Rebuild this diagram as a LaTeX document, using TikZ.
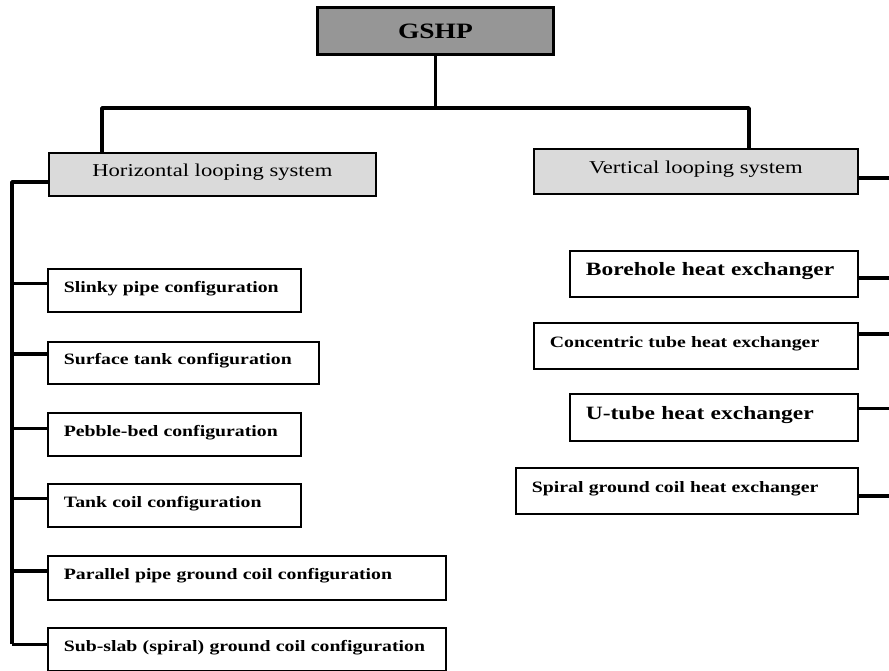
\documentclass[tikz,border=0pt]{standalone}
\usepackage{fontspec}
\newfontfamily\diagfont[FakeStretch=1.25]{Liberation Serif}
\usepackage{xcolor}
\definecolor{rootgray}{RGB}{150,150,150}
\definecolor{groupgray}{RGB}{218,218,218}
\usetikzlibrary{calc, positioning}
\tikzset{
  rootbox/.style={draw, line width=1.7pt, fill=rootgray, anchor=north west, align=center,
    font=\diagfont\bfseries\fontsize{12.5}{14}\selectfont},
  groupbox/.style={draw, line width=1pt, fill=groupgray, anchor=north west, align=center,
    text height=0.7em, text depth=0.5em, font=\diagfont\fontsize{10.3}{12}\selectfont},
  leafbox/.style={draw, line width=1pt, fill=white, anchor=north west, align=left,
    inner xsep=0.32cm, text height=0.7em, text depth=0.5em,
    font=\diagfont\bfseries\fontsize{9}{11}\selectfont},
  bigleaf/.style={leafbox, font=\diagfont\bfseries\fontsize{10.7}{12}\selectfont},
  trunk/.style={line width=2pt, line join=round}
}
\begin{document}
\begin{tikzpicture}[x=0.02cm, y=-0.02cm]
  \useasboundingbox (0,0) rectangle (889,671);
  % top
  \node[rootbox, minimum width=4.72cm, minimum height=0.94cm] (gshp) at (316,6) {GSHP};
  \node[groupbox, minimum width=6.54cm, minimum height=0.86cm] (horiz) at (48,152) {Horizontal looping system};
  \node[groupbox, minimum width=6.48cm, minimum height=0.9cm] (vert) at (533,148) {Vertical looping system};
  % horizontal looping
  \node[leafbox, text width=4.42cm, minimum height=0.86cm] (slinky) at (47,268) {Slinky pipe configuration};
  \node[leafbox, text width=4.78cm, minimum height=0.84cm] (surface) at (47,341) {Surface tank configuration};
  \node[leafbox, text width=4.42cm, minimum height=0.86cm] (pebble) at (47,412) {Pebble-bed configuration};
  \node[leafbox, text width=4.42cm, minimum height=0.86cm] (tankcoil) at (47,483) {Tank coil configuration};
  \node[leafbox, text width=7.32cm, minimum height=0.88cm] (parallel) at (47,555) {Parallel pipe ground coil configuration};
  \node[leafbox, text width=7.32cm, minimum height=0.86cm] (subslab) at (47,627) {Sub-slab (spiral) ground coil configuration};
  % vertical looping
  \node[bigleaf, text width=5.12cm, minimum height=0.92cm] (borehole) at (569,250) {Borehole heat exchanger};
  \node[leafbox, text width=5.84cm, minimum height=0.92cm] (concentric) at (533,322) {Concentric tube heat exchanger};
  \node[bigleaf, text width=5.12cm, minimum height=0.94cm] (utube) at (569,393) {U-tube heat exchanger};
  \node[leafbox, text width=6.20cm, minimum height=0.92cm] (spiral) at (515,467) {Spiral ground coil heat exchanger};

  % bus under GSHP
  \coordinate (hdrop) at (102,108);
  \coordinate (vdrop) at (749,108);
  \draw[trunk] (gshp) -- (gshp |- hdrop);
  \draw[trunk] (horiz.north -| hdrop) -- (hdrop) -- (vdrop) -- (vert.north -| vdrop);

  % left trunk
  \coordinate (ltrunk) at (12,182);
  \draw[trunk] (horiz.west |- ltrunk) -- (ltrunk) -- ($(ltrunk |- subslab.west)+(0,-5)$);
  \foreach \leaf/\dy in {slinky/-7, surface/-9, pebble/-6, tankcoil/-7, parallel/-7, subslab/-5}
    \draw[trunk] ($(ltrunk |- \leaf.west)+(0,\dy)$) -- ($(\leaf.west)+(0,\dy)$);

  % right trunk (runs off the page)
  \coordinate (rtrunk) at (893,178);
  \draw[trunk] (vert.east |- rtrunk) -- (rtrunk) -- ($(rtrunk |- spiral.east)+(0,5)$);
  \foreach \leaf/\dy in {borehole/4, concentric/-12, utube/-9, spiral/5}
    \draw[trunk] ($(\leaf.east)+(0,\dy)$) -- ($(rtrunk |- \leaf.east)+(0,\dy)$);
\end{tikzpicture}
\end{document}
